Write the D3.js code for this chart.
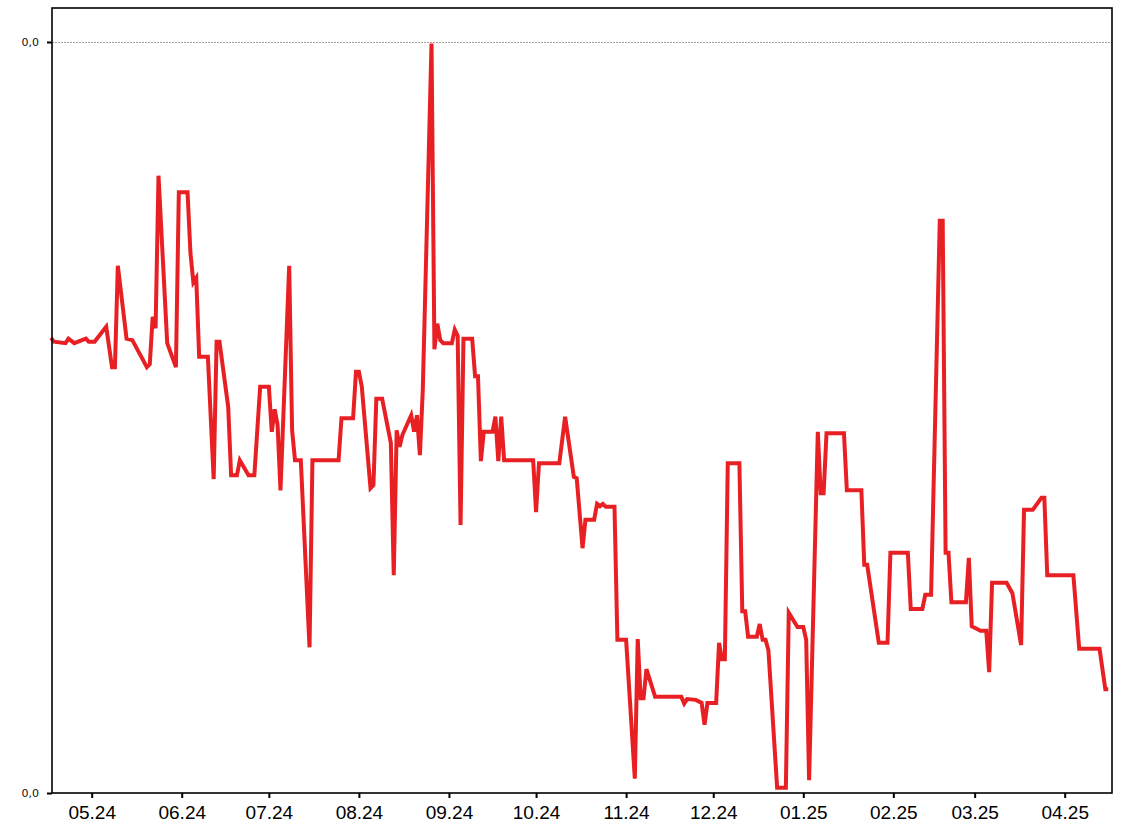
<!DOCTYPE html>
<html>
<head>
<meta charset="utf-8">
<script src="https://cdn.jsdelivr.net/npm/d3@7"></script>
<style>
  html, body { margin: 0; padding: 0; background: #ffffff; }
  svg { display: block; }
</style>
</head>
<body>
<svg id="chart" width="1128" height="836"></svg>
<script>
// ---- data ----
const dates = [
  "2024-04-17","2024-04-18","2024-04-22","2024-04-23","2024-04-25","2024-04-27","2024-04-29","2024-04-30",
  "2024-05-02","2024-05-06","2024-05-08","2024-05-09","2024-05-10","2024-05-13","2024-05-15","2024-05-20",
  "2024-05-21","2024-05-22","2024-05-23","2024-05-24","2024-05-27","2024-05-30","2024-05-31","2024-06-03",
  "2024-06-04","2024-06-05","2024-06-06","2024-06-07","2024-06-10","2024-06-12","2024-06-13","2024-06-14",
  "2024-06-17","2024-06-18","2024-06-20","2024-06-21","2024-06-24","2024-06-26","2024-06-28","2024-07-01",
  "2024-07-02","2024-07-03","2024-07-04","2024-07-05","2024-07-08","2024-07-09","2024-07-10","2024-07-12",
  "2024-07-15","2024-07-16","2024-07-25","2024-07-26","2024-07-30","2024-07-31","2024-08-01","2024-08-02",
  "2024-08-05","2024-08-06","2024-08-07","2024-08-09","2024-08-12","2024-08-13","2024-08-14","2024-08-15",
  "2024-08-16","2024-08-19","2024-08-20","2024-08-21","2024-08-22","2024-08-23","2024-08-26","2024-08-27",
  "2024-08-28","2024-08-29","2024-08-30","2024-09-02","2024-09-03","2024-09-04","2024-09-05","2024-09-06",
  "2024-09-09","2024-09-10","2024-09-11","2024-09-12","2024-09-13","2024-09-16","2024-09-17","2024-09-18",
  "2024-09-19","2024-09-20","2024-09-30","2024-10-01","2024-10-02","2024-10-09","2024-10-11","2024-10-14",
  "2024-10-15","2024-10-17","2024-10-18","2024-10-21","2024-10-22","2024-10-23","2024-10-24","2024-10-25",
  "2024-10-28","2024-10-29","2024-11-01","2024-11-04","2024-11-05","2024-11-06","2024-11-07","2024-11-08",
  "2024-11-11","2024-11-20","2024-11-21","2024-11-22","2024-11-25","2024-11-27","2024-11-28","2024-11-29",
  "2024-12-02","2024-12-03","2024-12-04","2024-12-05","2024-12-06","2024-12-10","2024-12-11","2024-12-12",
  "2024-12-13","2024-12-16","2024-12-17","2024-12-18","2024-12-19","2024-12-20","2024-12-23","2024-12-26",
  "2024-12-27","2024-12-30","2025-01-01","2025-01-02","2025-01-03","2025-01-06","2025-01-07","2025-01-08",
  "2025-01-09","2025-01-15","2025-01-16","2025-01-21","2025-01-22","2025-01-23","2025-01-27","2025-01-30",
  "2025-01-31","2025-02-06","2025-02-07","2025-02-11","2025-02-12","2025-02-14","2025-02-17","2025-02-18",
  "2025-02-19","2025-02-20","2025-02-21","2025-02-26","2025-02-27","2025-02-28","2025-03-03","2025-03-05",
  "2025-03-06","2025-03-07","2025-03-12","2025-03-14","2025-03-17","2025-03-18","2025-03-21","2025-03-24",
  "2025-03-25","2025-03-26","2025-04-04","2025-04-06","2025-04-13","2025-04-15","2025-04-16"
];
const values = [
  60.6,60.1,59.9,60.5,59.9,60.2,60.5,60.1,
  60.1,62.1,56.7,56.7,70.2,60.5,60.3,56.7,
  57.1,63.4,61.9,82.2,59.9,56.7,80.0,80.0,
  71.9,68.0,68.6,58.1,58.1,41.8,60.1,60.1,
  51.4,42.3,42.3,44.3,42.3,42.3,54.1,54.1,
  48.1,51.1,49.0,40.3,70.2,48.3,44.3,44.3,
  19.4,44.3,44.3,49.9,49.9,56.1,56.1,54.1,
  40.6,41.0,52.5,52.5,46.6,29.0,48.3,46.1,
  47.7,50.3,48.1,50.3,45.0,53.7,99.8,59.1,
  62.5,60.3,59.9,59.9,61.7,60.9,35.7,60.5,
  60.5,55.5,55.5,44.2,48.1,48.1,50.1,44.2,
  50.1,44.3,44.3,37.4,43.9,43.9,50.1,42.1,
  41.9,32.6,36.4,36.4,38.5,38.2,38.5,38.1,
  38.1,20.4,20.4,1.9,20.5,12.6,12.6,16.5,
  12.8,12.8,11.9,12.5,12.4,12.0,9.1,12.0,
  12.0,20.0,17.8,17.8,43.9,43.9,24.2,24.2,
  20.8,20.8,22.5,20.4,20.4,19.0,0.7,0.7,
  24.0,22.1,22.1,20.4,1.7,48.1,39.9,39.9,
  47.9,47.9,40.3,40.3,30.4,30.4,20.0,20.0,
  32.0,32.0,24.5,24.5,26.4,26.4,76.2,76.2,
  32.0,32.0,25.4,25.4,31.3,22.2,21.6,21.6,
  16.1,28.0,28.0,26.6,19.7,37.7,37.7,39.3,
  39.3,29.0,29.0,19.2,19.2,13.8,13.8
];
const xTickDates = ["2024-05-01","2024-06-01","2024-07-01","2024-08-01","2024-09-01","2024-10-01",
  "2024-11-01","2024-12-01","2025-01-01","2025-02-01","2025-03-01","2025-04-01"];
const xTickLabels = ["05.24","06.24","07.24","08.24","09.24","10.24","11.24","12.24","01.25","02.25","03.25","04.25"];
const yTickValues = [0, 100];
const yTickLabels = ["0,0","0,0"];
const xDomain = ["2024-04-17T08:00:00","2025-04-17T07:00:00"];
const yDomain = [0, 100];

// ---- layout ----
const L = 52, T = 8, R = 1112, B = 793, TOPTICK = 42;
const parse = d3.isoParse;
const data = dates.map((d, i) => ({ date: new Date(d + "T00:00:00"), value: values[i] }));

const x = d3.scaleTime().domain(xDomain.map(d => new Date(d))).range([L, R]);
const y = d3.scaleLinear().domain(yDomain).range([B, TOPTICK]);

const svg = d3.select("#chart");

// gridline at top tick
svg.append("line")
  .attr("x1", L).attr("x2", R)
  .attr("y1", y(yTickValues[1]) + 0.5).attr("y2", y(yTickValues[1]) + 0.5)
  .attr("stroke", "#a0a0a0").attr("stroke-width", 1)
  .attr("stroke-dasharray", "2,1");

// line
const line = d3.line().x(d => x(d.date)).y(d => y(d.value));
svg.append("path")
  .datum(data)
  .attr("fill", "none")
  .attr("stroke", "#e82024")
  .attr("stroke-width", 4)
  .attr("stroke-linejoin", "miter")
  .attr("d", line);

// frame
svg.append("rect")
  .attr("x", L).attr("y", T)
  .attr("width", R - L).attr("height", B - T)
  .attr("fill", "none").attr("stroke", "#000").attr("stroke-width", 1.6);

// x axis
const xAxis = d3.axisBottom(x)
  .tickValues(xTickDates.map(d => new Date(d + "T00:00:00")))
  .tickFormat((d, i) => xTickLabels[i])
  .tickSize(5).tickPadding(8);
const gx = svg.append("g").attr("transform", `translate(0,${B})`).call(xAxis);
gx.select(".domain").remove();
gx.selectAll(".tick line").attr("stroke", "#000").attr("stroke-width", 2);
gx.selectAll(".tick text")
  .attr("fill", "#000")
  .style("font-family", "'Liberation Sans', Arial, sans-serif")
  .style("font-size", "19px");

// y axis
const yAxis = d3.axisLeft(y)
  .tickValues(yTickValues)
  .tickFormat((d, i) => yTickLabels[i])
  .tickSize(5).tickPadding(8);
const gy = svg.append("g").attr("transform", `translate(${L},0)`).call(yAxis);
gy.select(".domain").remove();
gy.selectAll(".tick line").attr("stroke", "#000").attr("stroke-width", 2);
gy.selectAll(".tick text")
  .attr("fill", "#111")
  .style("font-family", "'DejaVu Sans', sans-serif")
  .style("font-size", "11px");
</script>
</body>
</html>
